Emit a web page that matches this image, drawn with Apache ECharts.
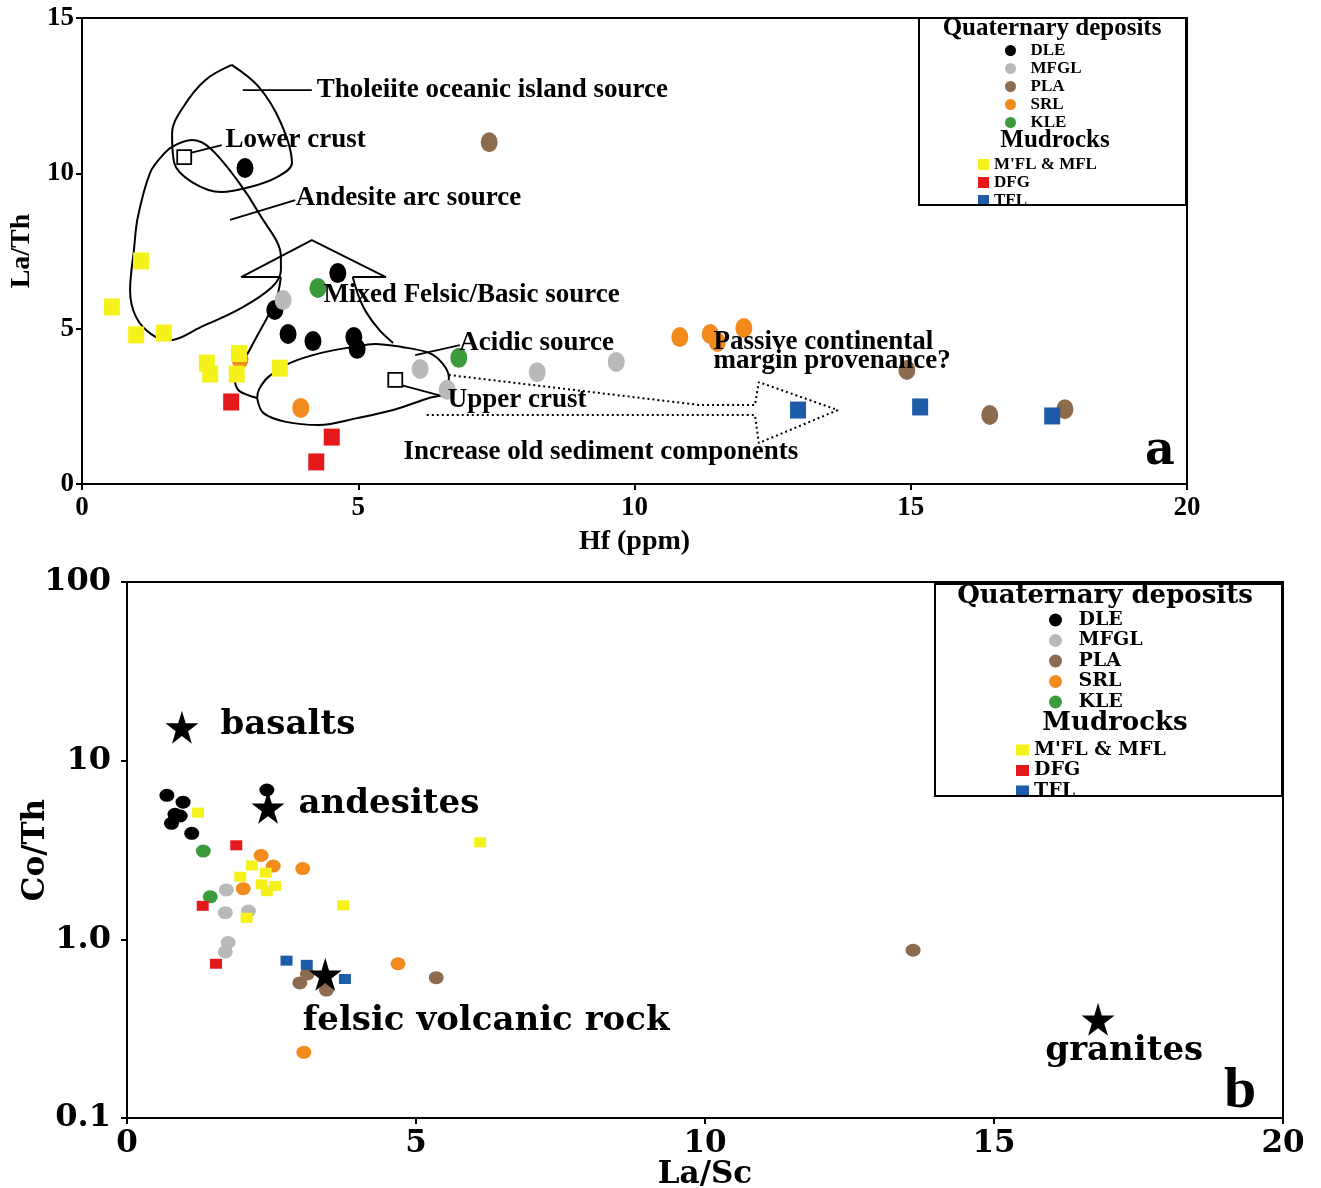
<!DOCTYPE html>
<html><head><meta charset="utf-8">
<script src="https://cdn.jsdelivr.net/npm/echarts/dist/echarts.min.js"></script>
<style>html,body{margin:0;padding:0;background:#fff}#c{width:1321px;height:1188px}</style>
</head><body><div id="c"></div><script>
// ---------- Panel a: La/Th vs Hf (ppm) ----------
const dleA  = [[2.95,10.17],[4.63,6.79],[3.49,5.6],[3.73,4.83],[4.18,4.6],[4.92,4.73],[4.98,4.35]];
const mfglA = [[3.64,5.92],[6.12,3.7],[6.61,3.03],[8.24,3.6],[9.67,3.93]];
const plaA  = [[7.37,11.0],[14.93,3.67],[16.43,2.22],[17.79,2.41]];
const srlA  = [[2.86,4.02],[3.96,2.45],[10.82,4.73],[11.37,4.83],[11.5,4.57],[11.98,5.02]];
const kleA  = [[4.27,6.31],[6.82,4.06]];
const mflA  = [[0.54,5.7],[1.07,7.18],[0.98,4.8],[1.48,4.86],[2.26,3.89],[2.32,3.54],[2.8,3.54],[2.84,4.2],[3.58,3.73]];
const dfgA  = [[2.7,2.64],[4.52,1.51],[4.24,0.71]];
const tflA  = [[12.96,2.38],[15.17,2.48],[17.56,2.19]];

// source field outlines (data coordinates)
const tholeiiteOutline = [[2.71,13.49],[3.2,12.78],[3.6,11.62],[3.8,10.33],[3.53,9.88],[3.04,9.56],[2.52,9.4],[1.99,9.72],[1.67,10.33],[1.63,11.3],[1.83,12.13],[2.23,13.0],[2.71,13.49]];
const andesiteOutline = [[1.43,10.52],[1.63,10.85],[1.99,11.07],[2.32,10.81],[2.81,9.78],[3.2,8.72],[3.6,7.31],[3.6,6.89],[3.44,6.34],[2.88,5.66],[2.15,5.05],[1.59,4.63],[1.27,4.8],[0.98,5.37],[0.87,6.24],[0.94,7.53],[1.01,8.59],[1.23,10.01],[1.43,10.52]];
const mixedArrowHead = [[3.6,6.66],[2.88,6.66],[4.16,7.85],[5.5,6.66],[4.9,6.66]];
const mixedShaftRight = [[4.9,6.66],[5.0,6.08],[5.14,5.54],[5.38,4.96],[5.63,4.54]];
const mixedShaftLeft = [[3.6,6.66],[3.51,5.92],[3.06,4.4],[2.77,3.29],[2.85,2.99],[3.17,2.77]];
const upperCrustOutline = [[3.17,2.77],[3.28,2.29],[3.69,2.0],[4.29,1.9],[4.98,2.12],[5.63,2.38],[6.28,2.77],[6.59,2.93],[6.64,3.44],[6.52,3.89],[6.28,4.22],[5.79,4.41],[5.3,4.51],[4.9,4.41],[4.33,4.22],[3.76,3.89],[3.37,3.44],[3.2,3.03],[3.17,2.77]];
const oldSedimentArrow = [[6.64,3.51],[11.19,2.54],[12.18,2.54],[12.25,3.28],[13.68,2.38],[12.25,1.32],[12.18,2.22],[6.23,2.22]];
const leaderLinesA = [
  [[2.91,12.68],[4.16,12.68]],
  [[1.95,10.65],[2.53,10.91]],
  [[2.68,8.5],[3.86,9.14]],
  [[6.03,4.15],[6.84,4.47]],
  [[5.76,3.19],[6.59,2.8]]
];
const crustBoxes = [[1.85,10.52],[5.67,3.35]];
const noteTextA = ['Tholeiite oceanic island source','Lower crust','Andesite arc source','Mixed Felsic/Basic source','Acidic source','Passive continental\nmargin provenance?','Upper crust','Increase old sediment components'];
const noteXYA = [[4.24,12.68],[2.59,11.07],[3.86,9.2],[4.36,6.08],[6.82,4.54],[11.42,4.25],[6.61,2.7],[5.81,1.03]];
const panelTagA = [[19.51,1.03]];

// ---------- Panel b: Co/Th vs La/Sc ----------
const dleB  = [[0.69,6.4],[0.97,5.86],[0.83,5.01],[0.92,4.9],[0.77,4.46],[1.12,3.92],[2.42,6.85]];
const mfglB = [[1.72,1.89],[1.7,1.41],[2.1,1.44],[1.75,0.96],[1.7,0.85]];
const plaB  = [[2.99,0.57],[3.45,0.52],[3.12,0.64],[5.35,0.61],[13.6,0.87]];
const srlB  = [[2.32,2.95],[2.53,2.57],[3.04,2.49],[2.01,1.92],[4.69,0.73],[3.06,0.233]];
const kleB  = [[1.32,3.12],[1.44,1.73]];
const mflB  = [[1.23,5.12],[2.16,2.59],[2.4,2.36],[1.96,2.24],[2.33,2.03],[2.56,1.99],[2.42,1.86],[2.07,1.32],[3.74,1.55],[6.11,3.49]];
const dfgB  = [[1.89,3.36],[1.31,1.54],[1.54,0.73]];
const tflB  = [[2.76,0.76],[3.11,0.72],[3.77,0.6]];
const rockStars = [[0.95,15.4],[2.44,5.48],[3.43,0.637],[16.8,0.357]];
const rockNames = ['basalts','andesites','felsic volcanic rock','granites'];
const rockLabelXY = [[1.61,15.76],[2.96,5.69],[3.03,0.348],[15.88,0.236]];
const panelTagB = [[19.26,0.139]];

const xTicksA = [0,5,10,15,20], yTicksA = [0,5,10,15];
const xTicksB = [0,5,10,15,20], yTicksB = ['0.1','1.0','10','100'];

const quatNames = ['DLE','MFGL','PLA','SRL','KLE'];
const mudNames = ["M'FL & MFL",'DFG','TFL'];

// ---------- styling ----------
const SA = 'Liberation Serif', SB = 'DejaVu Serif';
const INK = '#000';
const colors = {DLE:'#000000',MFGL:'#b9b9b9',PLA:'#8c6b4e',SRL:'#f28a1c',KLE:'#3b9a3b',"M'FL & MFL":'#f4f21a',DFG:'#e3191c',TFL:'#1c5ca8'};
const STAR = 'path://M50,0 L61,35 L98,35 L68,57 L79,91 L50,70 L21,91 L32,57 L2,35 L39,35 Z';

const series = [];
function pts(name, data, g, symbol, size) {
  series.push({type:'scatter', name, data, xAxisIndex:g, yAxisIndex:g, symbol, symbolSize:size,
    itemStyle:{color:colors[name], opacity:1}, z:3});
}
function line(data, g, opts) {
  series.push(Object.assign({type:'line', data, xAxisIndex:g, yAxisIndex:g, symbol:'none', showSymbol:false,
    silent:true, lineStyle:{color:INK, width:2}, z:2}, opts||{}));
}
// outlines panel a
line(tholeiiteOutline, 0, {smooth:0.35});
line(andesiteOutline, 0, {smooth:0.35});
line(mixedArrowHead, 0, {});
line(mixedShaftRight, 0, {smooth:0.3});
line(mixedShaftLeft, 0, {smooth:0.3});
line(upperCrustOutline, 0, {smooth:0.35});
line(oldSedimentArrow, 0, {lineStyle:{color:INK, width:2, type:[2,3]}});
leaderLinesA.forEach(l => line(l, 0, {lineStyle:{color:INK, width:1.8}}));
series.push({type:'scatter', data:crustBoxes, xAxisIndex:0, yAxisIndex:0, symbol:'rect', symbolSize:14, silent:true,
  itemStyle:{color:'#fff', borderColor:INK, borderWidth:1.8, opacity:1}, z:4});

// points panel a
const topCirc = [17,20], topSq = [16,17];
pts('DLE', dleA, 0, 'circle', topCirc);
pts('MFGL', mfglA, 0, 'circle', topCirc);
pts('PLA', plaA, 0, 'circle', topCirc);
pts('SRL', srlA, 0, 'circle', topCirc);
pts('KLE', kleA, 0, 'circle', topCirc);
pts("M'FL & MFL", mflA, 0, 'rect', topSq);
pts('DFG', dfgA, 0, 'rect', topSq);
pts('TFL', tflA, 0, 'rect', topSq);

// points panel b
const botCirc = [15,13], botSq = [12,10];
pts('DLE', dleB, 1, 'circle', botCirc);
pts('MFGL', mfglB, 1, 'circle', botCirc);
pts('PLA', plaB, 1, 'circle', botCirc);
pts('SRL', srlB, 1, 'circle', botCirc);
pts('KLE', kleB, 1, 'circle', botCirc);
pts("M'FL & MFL", mflB, 1, 'rect', botSq);
pts('DFG', dfgB, 1, 'rect', botSq);
pts('TFL', tflB, 1, 'rect', botSq);
series.push({type:'scatter', data:rockStars, xAxisIndex:1, yAxisIndex:1, symbol:STAR, symbolSize:33, silent:true,
  itemStyle:{color:'#000', opacity:1}, z:5});

// annotation text
function notes(texts, xy, g, font, size, align, lh) {
  series.push({type:'scatter', xAxisIndex:g, yAxisIndex:g, symbol:'circle', symbolSize:1, silent:true, z:6,
    itemStyle:{color:'rgba(0,0,0,0)', opacity:1},
    data: xy.map((p,i) => ({name:texts[i], value:p})),
    label:{show:true, formatter:'{b}', position: align==='center'?'inside':'right', distance:0, opacity:1,
      align: align, verticalAlign:'middle', fontFamily:font, fontWeight:'bold', fontSize:size,
      lineHeight: lh || size, color:INK}});
}
notes(noteTextA, noteXYA, 0, SA, 27, 'left', 19);
notes(['a'], panelTagA, 0, SB, 46, 'center');
notes(rockNames, rockLabelXY, 1, SB, 34, 'left');
notes(['b'], panelTagB, 1, SA, 58, 'center');

const axLine = {show:true, lineStyle:{color:INK, width:2}};
const axTick = {show:true, length:6, lineStyle:{color:INK, width:2}};

const option = {
  animation:false,
  backgroundColor:'#fff',
  grid:[
    {left:82, top:18, width:1105, height:466, show:true, borderColor:INK, borderWidth:2, containLabel:false, outerBoundsMode:'none'},
    {left:127, top:582, width:1156, height:536, show:true, borderColor:INK, borderWidth:2, containLabel:false, outerBoundsMode:'none'}
  ],
  xAxis:[
    {gridIndex:0, type:'value', min:xTicksA[0], max:xTicksA[xTicksA.length-1], interval:5, splitLine:{show:false},
     axisLine:axLine, axisTick:axTick,
     axisLabel:{margin:11, fontFamily:SA, fontWeight:'bold', fontSize:27, color:INK},
     name:'Hf (ppm)', nameLocation:'middle', nameGap:44,
     nameTextStyle:{fontFamily:SA, fontWeight:'bold', fontSize:28, color:INK}},
    {gridIndex:1, type:'value', min:xTicksB[0], max:xTicksB[xTicksB.length-1], interval:5, splitLine:{show:false},
     axisLine:axLine, axisTick:axTick,
     axisLabel:{margin:10, fontFamily:SB, fontWeight:'bold', fontSize:31, color:INK},
     name:'La/Sc', nameLocation:'middle', nameGap:41,
     nameTextStyle:{fontFamily:SB, fontWeight:'bold', fontSize:31, color:INK}}
  ],
  yAxis:[
    {gridIndex:0, type:'value', min:yTicksA[0], max:yTicksA[yTicksA.length-1], interval:5, splitLine:{show:false},
     axisLine:axLine, axisTick:axTick,
     axisLabel:{margin:8, fontFamily:SA, fontWeight:'bold', fontSize:27, color:INK},
     name:'La/Th', nameLocation:'middle', nameGap:46,
     nameTextStyle:{fontFamily:SA, fontWeight:'bold', fontSize:28, color:INK}},
    {gridIndex:1, type:'log', logBase:10, min:0.1, max:100, splitLine:{show:false},
     axisLine:axLine, axisTick:axTick, minorTick:{show:false},
     axisLabel:{margin:16, fontFamily:SB, fontWeight:'bold', fontSize:32, color:INK},
     name:'Co/Th', nameLocation:'middle', nameGap:76, nameMoveOverlap:false,
     nameTextStyle:{fontFamily:SB, fontWeight:'bold', fontSize:31, color:INK}}
  ],
  legend:[
    {data:quatNames, orient:'vertical', left:1000, top:37, itemWidth:30, itemHeight:11, itemGap:1, selectedMode:false,
     textStyle:{fontFamily:SA, fontWeight:'bold', fontSize:17, lineHeight:17, color:INK}},
    {data:mudNames, orient:'vertical', left:973, top:151, itemWidth:11, itemHeight:11, itemGap:1, selectedMode:false,
     textStyle:{fontFamily:SA, fontWeight:'bold', fontSize:17, lineHeight:17, color:INK}},
    {data:quatNames, orient:'vertical', left:1044, top:605, itemWidth:36, itemHeight:13, itemGap:0.5, selectedMode:false,
     textStyle:{fontFamily:SB, fontWeight:'bold', fontSize:19, lineHeight:20, color:INK}},
    {data:mudNames, orient:'vertical', left:1011, top:735, itemWidth:13, itemHeight:11, itemGap:0.5, selectedMode:false,
     textStyle:{fontFamily:SB, fontWeight:'bold', fontSize:19, lineHeight:20, color:INK}}
  ],
  graphic:[
    {type:'rect', shape:{x:919, y:18, width:267, height:187}, style:{fill:'rgba(0,0,0,0)', stroke:INK, lineWidth:2}, z:10, silent:true},
    {type:'text', x:1052, y:29, style:{text:'Quaternary deposits', font:'bold 25px "Liberation Serif"', fill:INK, align:'center', verticalAlign:'middle'}, z:10},
    {type:'text', x:1055, y:141, style:{text:'Mudrocks', font:'bold 25px "Liberation Serif"', fill:INK, align:'center', verticalAlign:'middle'}, z:10},
    {type:'rect', shape:{x:935, y:584, width:347, height:212}, style:{fill:'rgba(0,0,0,0)', stroke:INK, lineWidth:2}, z:10, silent:true},
    {type:'text', x:1105, y:596, style:{text:'Quaternary deposits', font:'bold 26px "DejaVu Serif"', fill:INK, align:'center', verticalAlign:'middle'}, z:10},
    {type:'text', x:1115, y:723, style:{text:'Mudrocks', font:'bold 26px "DejaVu Serif"', fill:INK, align:'center', verticalAlign:'middle'}, z:10}
  ],
  series
};
option.yAxis[1].axisLabel.formatter = v => { const i = Math.round(Math.log10(v)) + 1; return yTicksB[i] !== undefined ? yTicksB[i] : String(v); };
const chart = echarts.init(document.getElementById('c'), null, {renderer:'canvas'});
chart.setOption(option);
</script></body></html>
